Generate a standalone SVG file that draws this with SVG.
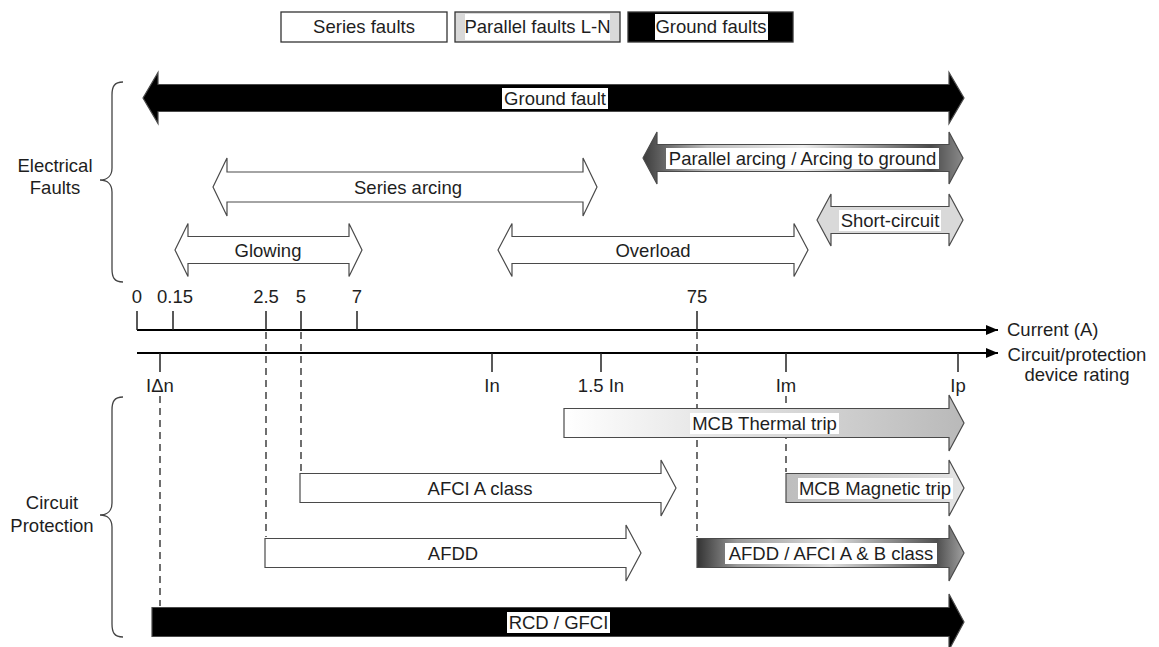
<svg xmlns="http://www.w3.org/2000/svg" width="1159" height="647" viewBox="0 0 1159 647">
  <defs>
    <linearGradient id="gParallel" x1="0" y1="0" x2="1" y2="0">
      <stop offset="0" stop-color="#3c3c3c"/>
      <stop offset="0.2" stop-color="#bdbdbd"/>
      <stop offset="0.5" stop-color="#eeeeee"/>
      <stop offset="0.9" stop-color="#4a4a4a"/>
      <stop offset="1" stop-color="#8a8a8a"/>
    </linearGradient>
    <linearGradient id="gThermal" x1="0" y1="0" x2="1" y2="0">
      <stop offset="0" stop-color="#ffffff"/>
      <stop offset="1" stop-color="#b9b9b9"/>
    </linearGradient>
    <linearGradient id="gMagnetic" x1="0" y1="0" x2="1" y2="0">
      <stop offset="0" stop-color="#bdbdbd"/>
      <stop offset="1" stop-color="#e4e4e4"/>
    </linearGradient>
    <linearGradient id="gAB" x1="0" y1="0" x2="1" y2="0">
      <stop offset="0" stop-color="#333333"/>
      <stop offset="0.15" stop-color="#9a9a9a"/>
      <stop offset="0.5" stop-color="#dddddd"/>
      <stop offset="0.9" stop-color="#505050"/>
      <stop offset="1" stop-color="#a0a0a0"/>
    </linearGradient>
    <marker id="axisHead" viewBox="0 0 12 10" refX="12" refY="5" markerWidth="12" markerHeight="10" markerUnits="userSpaceOnUse" orient="auto">
      <path d="M0,0 L12,5 L0,10 Z" fill="#000"/>
    </marker>
    <style>
      text { font-family: "Liberation Sans", Arial, sans-serif; font-size: 18.5px; fill: #1e1e1e; }
      .mid { text-anchor: middle; }
      .arrow { stroke: #4a4a4a; stroke-width: 1.2; stroke-linejoin: miter; }
      .white { fill: #ffffff; }
      .black { fill: #000000; }
      .grey { fill: #d9d9d9; }
      .lbl { fill: #ffffff; stroke: none; }
      .brace { fill: none; stroke: #444; stroke-width: 1.3; }
      .axis { stroke: #000; stroke-width: 2; fill: none; }
      .tick { stroke: #222; stroke-width: 1.5; }
      .dash { stroke: #222; stroke-width: 1.3; stroke-dasharray: 7 5; fill: none; }
      .legend { stroke: #333; stroke-width: 1.3; }
    </style>
  </defs>

  <!-- Legend -->
  <g id="legend-series">
    <rect class="legend white" x="281" y="12" width="166" height="30"/>
    <text class="mid" x="364" y="33">Series faults</text>
  </g>
  <g id="legend-parallel">
    <rect class="legend grey" x="455" y="12" width="165" height="30"/>
    <rect class="lbl" x="465" y="14" width="145" height="26"/>
    <text class="mid" x="537.5" y="33">Parallel faults L-N</text>
  </g>
  <g id="legend-ground">
    <rect class="legend black" x="628" y="12" width="165" height="30"/>
    <rect class="lbl" x="655" y="14" width="113" height="26"/>
    <text class="mid" x="711" y="33">Ground faults</text>
  </g>

  <!-- Group braces -->
  <g id="group-faults">
    <path class="brace" d="M123,82 C114,82 112,87 112,95 L112,168 C112,175 108,180 100,180 C108,180 112,185 112,192 L112,269 C112,277 114,282 123,282"/>
    <text class="mid" x="55" y="172">Electrical</text>
    <text class="mid" x="55" y="194">Faults</text>
  </g>
  <g id="group-protection">
    <path class="brace" d="M123,397 C114,397 112,402 112,410 L112,503 C112,510 108,515 100,515 C108,515 112,520 112,527 L112,624 C112,632 114,637 123,637"/>
    <text class="mid" x="52" y="509">Circuit</text>
    <text class="mid" x="52" y="532">Protection</text>
  </g>

  <!-- Fault ranges -->
  <g id="fault-ground">
    <path class="arrow black" d="M143,98 L158,72.5 L158,84.5 L949,84.5 L949,72.5 L964,98 L949,123.5 L949,111.5 L158,111.5 L158,123.5 Z"/>
    <rect class="lbl" x="502" y="88" width="106" height="21"/>
    <text class="mid" x="555" y="104.5">Ground fault</text>
  </g>
  <g id="fault-parallel-arcing">
    <path class="arrow" fill="url(#gParallel)" d="M643,158 L657,132 L657,144.5 L949,144.5 L949,132 L963,158 L949,184 L949,171.5 L657,171.5 L657,184 Z"/>
    <rect class="lbl" x="666" y="148" width="273" height="21"/>
    <text class="mid" x="802.5" y="164.5">Parallel arcing / Arcing to ground</text>
  </g>
  <g id="fault-series-arcing">
    <path class="arrow white" d="M213,187 L227,158 L227,172 L583,172 L583,158 L597,187 L583,216 L583,202 L227,202 L227,216 Z"/>
    <text class="mid" x="408" y="193.5">Series arcing</text>
  </g>
  <g id="fault-short-circuit">
    <path class="arrow grey" d="M817,220 L831,194 L831,206.5 L949,206.5 L949,194 L963,220 L949,246 L949,233.5 L831,233.5 L831,246 Z"/>
    <rect class="lbl" x="839" y="210" width="102" height="21"/>
    <text class="mid" x="890" y="226.5">Short-circuit</text>
  </g>
  <g id="fault-glowing">
    <path class="arrow white" d="M175,250 L188,223.5 L188,236.5 L349,236.5 L349,223.5 L362,250 L349,276.5 L349,263.5 L188,263.5 L188,276.5 Z"/>
    <text class="mid" x="268" y="256.5">Glowing</text>
  </g>
  <g id="fault-overload">
    <path class="arrow white" d="M498,250 L512,223.5 L512,236.5 L794,236.5 L794,223.5 L808,250 L794,276.5 L794,263.5 L512,263.5 L512,276.5 Z"/>
    <text class="mid" x="653" y="256.5">Overload</text>
  </g>

  <!-- Scales -->
  <g id="axis-current">
    <line class="axis" x1="137" y1="330" x2="998" y2="330" marker-end="url(#axisHead)"/>
    <line class="tick" x1="137" y1="311" x2="137" y2="330"/>
    <line class="tick" x1="173" y1="311" x2="173" y2="330"/>
    <line class="tick" x1="266" y1="311" x2="266" y2="330"/>
    <line class="tick" x1="301" y1="311" x2="301" y2="330"/>
    <line class="tick" x1="357" y1="311" x2="357" y2="330"/>
    <line class="tick" x1="697" y1="311" x2="697" y2="330"/>
    <text class="mid" x="137" y="303">0</text>
    <text class="mid" x="175" y="303">0.15</text>
    <text class="mid" x="266" y="303">2.5</text>
    <text class="mid" x="301" y="303">5</text>
    <text class="mid" x="357" y="303">7</text>
    <text class="mid" x="697" y="303">75</text>
    <text x="1007" y="336">Current (A)</text>
  </g>
  <g id="axis-rating">
    <line class="axis" x1="137" y1="353" x2="998" y2="353" marker-end="url(#axisHead)"/>
    <line class="tick" x1="160" y1="353" x2="160" y2="372"/>
    <line class="tick" x1="492" y1="353" x2="492" y2="372"/>
    <line class="tick" x1="601" y1="353" x2="601" y2="372"/>
    <line class="tick" x1="786" y1="353" x2="786" y2="372"/>
    <line class="tick" x1="958" y1="353" x2="958" y2="372"/>
    <text class="mid" x="160" y="392">I&#916;n</text>
    <text class="mid" x="492" y="392">In</text>
    <text class="mid" x="601" y="392">1.5 In</text>
    <text class="mid" x="786" y="392">Im</text>
    <text class="mid" x="958" y="392">Ip</text>
    <text class="mid" x="1077" y="361">Circuit/protection</text>
    <text class="mid" x="1077" y="381">device rating</text>
  </g>

  <!-- Guide lines from the scales to the protection ranges -->
  <g id="connectors">
    <path class="dash" d="M266,332 L266,537"/>
    <path class="dash" d="M301,332 L301,472"/>
    <path class="dash" d="M697,332 L697,537"/>
    <path class="dash" d="M160,396 L160,606"/>
    <path class="dash" d="M786,396 L786,472"/>
  </g>

  <!-- Protection ranges -->
  <g id="prot-mcb-thermal">
    <path class="arrow" fill="url(#gThermal)" d="M564,408.5 L949,408.5 L949,395 L964,423 L949,451 L949,437.5 L564,437.5 Z"/>
    <rect class="lbl" x="690" y="413" width="149" height="21"/>
    <text class="mid" x="764.5" y="429.5">MCB Thermal trip</text>
  </g>
  <g id="prot-afci-a">
    <path class="arrow white" d="M300,473.5 L661,473.5 L661,460 L676,488 L661,516 L661,502.5 L300,502.5 Z"/>
    <text class="mid" x="480" y="494.5">AFCI A class</text>
  </g>
  <g id="prot-mcb-magnetic">
    <path class="arrow" fill="url(#gMagnetic)" d="M786,473.5 L949,473.5 L949,460 L964,488 L949,516 L949,502.5 L786,502.5 Z"/>
    <rect class="lbl" x="798" y="478" width="155" height="21"/>
    <text class="mid" x="875" y="494.5">MCB Magnetic trip</text>
  </g>
  <g id="prot-afdd">
    <path class="arrow white" d="M265,538.5 L626,538.5 L626,525 L641,553 L626,581 L626,567.5 L265,567.5 Z"/>
    <text class="mid" x="453" y="559.5">AFDD</text>
  </g>
  <g id="prot-afdd-afci-ab">
    <path class="arrow" fill="url(#gAB)" d="M697,538.5 L949,538.5 L949,525 L964,553 L949,581 L949,567.5 L697,567.5 Z"/>
    <rect class="lbl" x="725" y="543" width="212" height="21"/>
    <text class="mid" x="831" y="559.5">AFDD / AFCI A &amp; B class</text>
  </g>
  <g id="prot-rcd">
    <path class="arrow black" d="M152,607.5 L949,607.5 L949,594 L964,622 L949,650 L949,636.5 L152,636.5 Z"/>
    <rect class="lbl" x="507" y="612" width="103" height="21"/>
    <text class="mid" x="558.5" y="628.5">RCD / GFCI</text>
  </g>
</svg>
